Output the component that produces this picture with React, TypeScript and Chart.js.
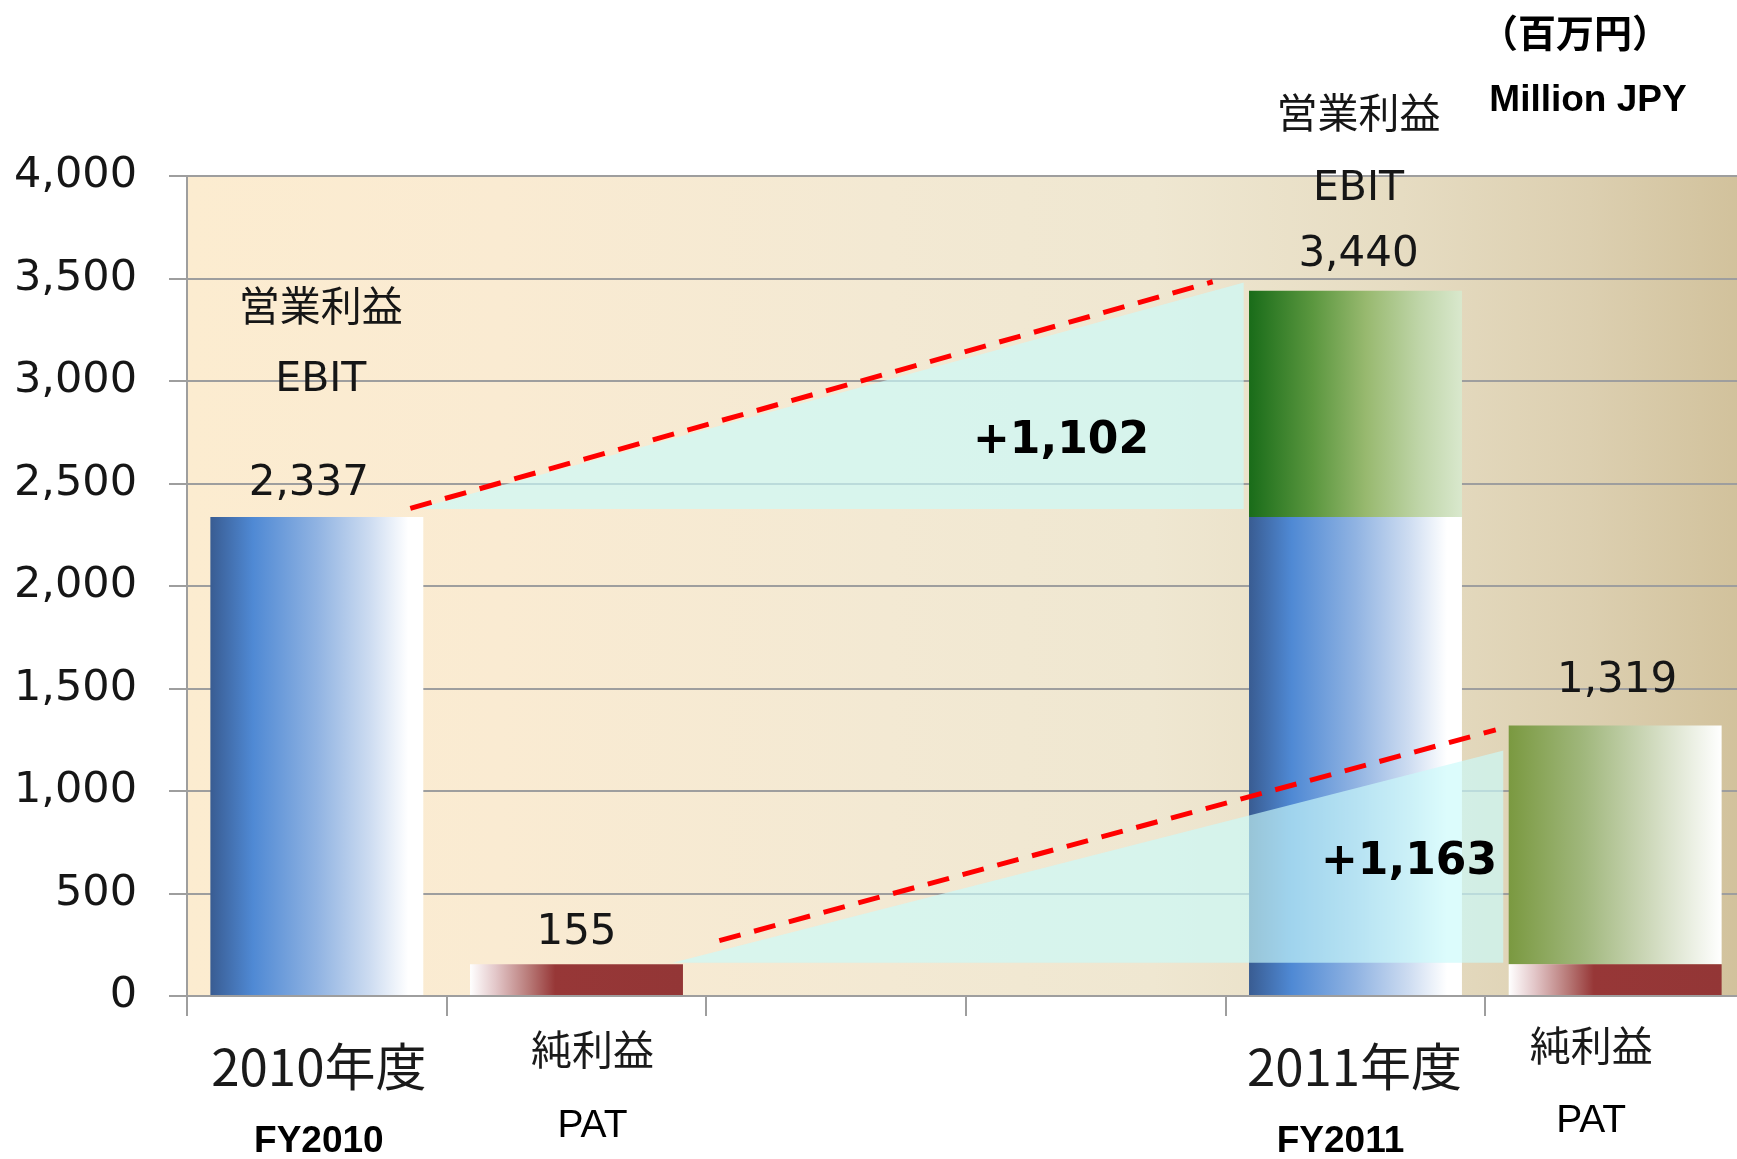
import React, { useEffect, useRef } from 'react';
import { Chart, registerables } from 'chart.js';

Chart.register(...registerables);

// ---- data ----
const categories = ['2010年度', '純利益', '', '', '2011年度', '純利益'];
const categorySub = ['FY2010', 'PAT', '', '', 'FY2011', 'PAT'];
const seriesNameJa = '営業利益';
const seriesNameEn = 'EBIT';
const ebitValues = [2337, 3440]; // FY2010, FY2011
const patValues = [155, 1319]; // FY2010, FY2011
const ebitDeltaLabel = '+1,102';
const patDeltaLabel = '+1,163';
const unitJa = '（百万円）';
const unitEn = 'Million JPY';
const yTickValues = [0, 500, 1000, 1500, 2000, 2500, 3000, 3500, 4000];

// wedge (growth) shapes and dashed guide lines, in (category index, value)
const ebitWedge = [{ x: 0.38, y: 2376 }, { x: 3.57, y: 3481 }];
const ebitWedgeBase = 2376;
const ebitDash = [{ x: 0.36, y: 2379 }, { x: 3.45, y: 3484 }];
const patWedge = [{ x: 1.37, y: 162 }, { x: 4.57, y: 1197 }];
const patWedgeBase = 162;
const patDash = [{ x: 1.55, y: 270 }, { x: 4.54, y: 1298 }];

// ---- derived stacks ----
const ebitBase = [ebitValues[0], null, null, null, ebitValues[0], null];
const ebitIncrease = [null, null, null, null, ebitValues[1] - ebitValues[0], null];
const patBase = [null, patValues[0], null, null, null, patValues[0]];
const patIncrease = [null, null, null, null, null, patValues[1] - patValues[0]];

const BAR_FRACTION = 0.82;

const BLUE_STOPS: [number, string][] = [
  [0, '#395c92'],
  [0.2, '#4f89d4'],
  [0.5, '#90b3e2'],
  [0.75, '#cddcf1'],
  [0.93, '#ffffff'],
  [1, '#ffffff'],
];
const GREEN_STOPS: [number, string][] = [
  [0, '#196c19'],
  [0.3, '#5b973f'],
  [0.55, '#98b96f'],
  [0.8, '#bfd5a8'],
  [1, '#d9e8cd'],
];
const OLIVE_STOPS: [number, string][] = [
  [0, '#7a9940'],
  [0.35, '#a0b77c'],
  [0.65, '#ccd7b8'],
  [1, '#ffffff'],
];
const RED_STOPS: [number, string][] = [
  [0, '#ffffff'],
  [0.12, '#e3c7c9'],
  [0.28, '#b77876'],
  [0.4, '#973737'],
  [1, '#933636'],
];

function barGradient(c: any, stops: [number, string][]) {
  const chart = c.chart;
  const xs = chart.scales && chart.scales.x;
  if (!chart.chartArea || !xs || c.dataIndex == null) return stops[Math.floor(stops.length / 2)][1];
  const cx = xs.getPixelForValue(c.dataIndex);
  const half = (xs.width / categories.length) * BAR_FRACTION / 2;
  const g = chart.ctx.createLinearGradient(cx - half, 0, cx + half, 0);
  stops.forEach(([o, col]) => g.addColorStop(o, col));
  return g;
}

const fmt = (v: number) => v.toLocaleString('en-US');

const WEDGE_FILL = 'rgba(202,250,250,0.66)';
const GRID = '#9e9e9e';

const bgPlugin = {
  id: 'bgPlugin',
  beforeDraw(chart: any) {
    const { ctx, chartArea: a, width, height } = chart;
    ctx.save();
    ctx.fillStyle = '#ffffff';
    ctx.fillRect(0, 0, width, height);
    const g = ctx.createLinearGradient(a.left, 0, a.right, 0);
    g.addColorStop(0, '#fcecd0');
    g.addColorStop(0.2, '#faebd2');
    g.addColorStop(0.45, '#f3e9d3');
    g.addColorStop(0.62, '#efe7d1');
    g.addColorStop(0.78, '#e6dcc2');
    g.addColorStop(0.9, '#dccfb0');
    g.addColorStop(1, '#d1c19b');
    ctx.fillStyle = g;
    ctx.fillRect(a.left, a.top, a.right - a.left, a.bottom - a.top);
    ctx.restore();
  },
};

const CJK = '"Noto Sans CJK JP", "Noto Sans CJK SC", sans-serif';
const DV = '"DejaVu Sans", sans-serif';
const LIB = '"Liberation Sans", Arial, sans-serif';

const textPlugin = {
  id: 'textPlugin',
  afterDraw(chart: any) {
    const { ctx } = chart;
    const xs = chart.scales.x;
    const ys = chart.scales.y;
    const px = (i: number) => xs.getPixelForValue(i);
    const py = (v: number) => ys.getPixelForValue(v);
    const draw = (t: string, x: number, y: number, font: string, color = '#161616') => {
      ctx.save();
      ctx.font = font;
      ctx.fillStyle = color;
      ctx.textAlign = 'center';
      ctx.textBaseline = 'middle';
      ctx.fillText(t, x, y);
      ctx.restore();
    };
    // series names
    draw(seriesNameJa, px(0) + 4, 305, `41px ${CJK}`);
    draw(seriesNameEn, px(0) + 4, 380, `41px ${DV}`);
    draw(seriesNameJa, px(4) + 3, 112, `41px ${CJK}`);
    draw(seriesNameEn, px(4) + 3, 189, `41px ${DV}`);
    // value labels
    draw(fmt(ebitValues[0]), px(0) - 8, py(ebitValues[0]) - 33, `42px ${DV}`);
    draw(fmt(patValues[0]), px(1), py(patValues[0]) - 31, `42px ${DV}`);
    draw(fmt(ebitValues[1]), px(4) + 3, py(ebitValues[1]) - 36, `42px ${DV}`);
    draw(fmt(patValues[1]), px(5) + 2, py(patValues[1]) - 45, `42px ${DV}`);
    // deltas
    draw(ebitDeltaLabel, 1061, 442, `bold 44px ${DV}`, '#000');
    draw(patDeltaLabel, 1409, 863, `bold 44px ${DV}`, '#000');
    // units
    draw(unitJa, 1575, 33, `bold 38px ${CJK}`, '#000');
    draw(unitEn, 1588, 101, `bold 37px ${LIB}`, '#000');
    // category labels
    const catDx = [2, 16, 0, 0, -1, -24];
    const catY = [1067, 1049, 0, 0, 1067, 1045];
    const subDx = [2, 16, 0, 0, -15, -24];
    const subY = [1142, 1126, 0, 0, 1142, 1121];
    categories.forEach((c, i) => {
      if (!c) return;
      const isYear = i === 0 || i === 4;
      draw(c, px(i) + catDx[i], catY[i], isYear ? `51px ${CJK}` : `41px ${CJK}`, '#1a1a1a');
      draw(categorySub[i], px(i) + subDx[i], subY[i], isYear ? `bold 37px ${LIB}` : `39px ${LIB}`, '#000');
    });
  },
};

export default function App() {
  const ref = useRef<HTMLCanvasElement | null>(null);
  useEffect(() => {
    if (!ref.current) return;
    const barCommon = { borderWidth: 0, order: 3, grouped: false, barPercentage: BAR_FRACTION, categoryPercentage: 1 };
    const chart = new Chart(ref.current, {
      type: 'bar',
      data: {
        labels: categories,
        datasets: [
          {
            type: 'bar',
            label: 'EBIT base',
            data: ebitBase as any,
            backgroundColor: (c: any) => barGradient(c, BLUE_STOPS),
            ...barCommon,
          },
          {
            type: 'bar',
            label: 'EBIT increase',
            data: ebitIncrease as any,
            backgroundColor: (c: any) => barGradient(c, GREEN_STOPS),
            ...barCommon,
          },
          {
            type: 'bar',
            label: 'PAT base',
            data: patBase as any,
            backgroundColor: (c: any) => barGradient(c, RED_STOPS),
            ...barCommon,
          },
          {
            type: 'bar',
            label: 'PAT increase',
            data: patIncrease as any,
            backgroundColor: (c: any) => barGradient(c, OLIVE_STOPS),
            ...barCommon,
          },
          {
            type: 'line',
            label: 'EBIT wedge',
            data: ebitWedge as any,
            xAxisID: 'x2',
            yAxisID: 'y2',
            borderWidth: 0,
            borderColor: 'rgba(0,0,0,0)',
            pointRadius: 0,
            fill: { value: ebitWedgeBase } as any,
            backgroundColor: WEDGE_FILL,
            tension: 0,
            order: 2,
          },
          {
            type: 'line',
            label: 'PAT wedge',
            data: patWedge as any,
            xAxisID: 'x2',
            yAxisID: 'y2',
            borderWidth: 0,
            borderColor: 'rgba(0,0,0,0)',
            pointRadius: 0,
            fill: { value: patWedgeBase } as any,
            backgroundColor: WEDGE_FILL,
            tension: 0,
            order: 2,
          },
          {
            type: 'line',
            label: 'EBIT guide',
            data: ebitDash as any,
            xAxisID: 'x2',
            yAxisID: 'y2',
            borderColor: '#ff0000',
            borderWidth: 5,
            borderDash: [22, 14],
            borderCapStyle: 'butt',
            pointRadius: 0,
            fill: false,
            order: 1,
          },
          {
            type: 'line',
            label: 'PAT guide',
            data: patDash as any,
            xAxisID: 'x2',
            yAxisID: 'y2',
            borderColor: '#ff0000',
            borderWidth: 5,
            borderDash: [22, 14],
            borderCapStyle: 'butt',
            pointRadius: 0,
            fill: false,
            order: 1,
          },
        ],
      },
      options: {
        animation: false,
        responsive: false,
        devicePixelRatio: 1,
        layout: { padding: { top: 176, right: 0, bottom: 0, left: 0 } },
        plugins: {
          legend: { display: false },
          tooltip: { enabled: false },
          title: { display: false },
        },
        scales: {
          x: {
            type: 'category',
            stacked: true,
            offset: true,
            grid: {
              offset: true,
              drawOnChartArea: false,
              drawTicks: true,
              tickLength: 20,
              color: GRID,
              lineWidth: 2,
            },
            border: { display: true, color: GRID, width: 2 },
            ticks: { display: false },
            afterFit: (s: any) => {
              s.height = 163;
            },
          },
          y: {
            type: 'linear',
            stacked: true,
            min: 0,
            max: 4000,
            afterBuildTicks: (s: any) => {
              s.ticks = yTickValues.map((v) => ({ value: v }));
            },
            grid: {
              color: GRID,
              lineWidth: 2,
              tickLength: 18,
              drawTicks: true,
            },
            border: { display: true, color: GRID, width: 2 },
            ticks: {
              padding: 32,
              color: '#161616',
              font: { family: 'DejaVu Sans', size: 43 },
              callback: (v: any) => fmt(Number(v)),
            },
            afterFit: (s: any) => {
              s.width = 187;
            },
          },
          x2: {
            type: 'linear',
            display: false,
            offset: false,
            grid: { offset: false },
            min: -0.5,
            max: 5.5,
          },
          y2: {
            type: 'linear',
            display: false,
            min: 0,
            max: 4000,
            stacked: false,
          },
        },
      } as any,
      plugins: [bgPlugin, textPlugin],
    });
    return () => chart.destroy();
  }, []);

  return (
    <div
      style={{
        position: 'fixed',
        left: 0,
        top: 0,
        width: 1737,
        height: 1159,
        overflow: 'hidden',
        background: '#ffffff',
      }}
    >
      <canvas ref={ref} width={1745} height={1159} style={{ display: 'block', width: 1745, height: 1159 }} />
    </div>
  );
}
